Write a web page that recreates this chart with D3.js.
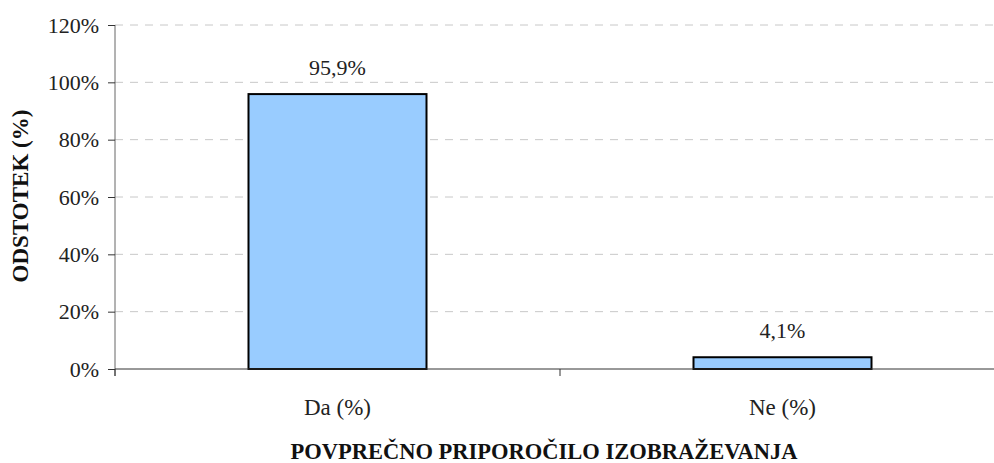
<!DOCTYPE html>
<html>
<head>
<meta charset="utf-8">
<script src="https://cdn.jsdelivr.net/npm/d3@7"></script>
<style>
  body { margin: 0; background: #fff; }
  svg { display: block; font-family: "Liberation Serif", "DejaVu Serif", serif; }
  svg text { font-family: "Liberation Serif", "DejaVu Serif", serif; }
</style>
</head>
<body>
<div id="chart"></div>
<script>
// data
var categories = ["Da (%)", "Ne (%)"];
var values = [95.9, 4.1];
var valueLabels = ["95,9%", "4,1%"];
var yTicks = [0, 20, 40, 60, 80, 100, 120];
var xTitle = "POVPREČNO PRIPOROČILO IZOBRAŽEVANJA";
var yTitle = "ODSTOTEK (%)";

var width = 994, height = 463;
var margin = { top: 25, right: -11, bottom: 94, left: 115 };

var svg = d3.select("#chart")
    .append("svg")
    .attr("width", width)
    .attr("height", height);

var innerW = width - margin.left - margin.right;
var innerH = height - margin.top - margin.bottom;

var graph = svg.append("g")
    .attr("transform", "translate(" + margin.left + "," + margin.top + ")");

var x = d3.scaleBand().domain(categories).range([0, innerW]).paddingInner(0.6).paddingOuter(0.3);
var xOuter = d3.scaleBand().domain(categories).range([0, innerW]);
var y = d3.scaleLinear().domain([0, 120]).range([innerH, 0]);

// gridlines
graph.selectAll(".grid")
    .data(yTicks.filter(function(d) { return d > 0; }))
    .enter().append("line")
    .attr("x1", 0)
    .attr("x2", innerW)
    .attr("y1", function(d) { return y(d); })
    .attr("y2", function(d) { return y(d); })
    .attr("stroke", "#c8c8c8")
    .attr("stroke-width", 1)
    .attr("stroke-dasharray", "8,7");

// y axis
var yAxis = graph.append("g")
    .call(d3.axisLeft(y).tickValues(yTicks).tickFormat(function(d) { return d + "%"; }).tickSize(7).tickPadding(9));
yAxis.attr("font-family", null);
yAxis.select(".domain").attr("stroke", "#666").attr("d", "M0," + (innerH + 7) + "V0");
yAxis.selectAll(".tick line").attr("stroke", "#333");
yAxis.selectAll("text").attr("font-size", 22).attr("fill", "#222");

// bars
graph.selectAll(".bar")
    .data(values)
    .enter().append("rect")
    .attr("x", function(d, i) { return x(categories[i]); })
    .attr("y", function(d) { return y(d); })
    .attr("width", x.bandwidth())
    .attr("height", function(d) { return innerH - y(d); })
    .attr("fill", "#99ccff")
    .attr("stroke", "#000")
    .attr("stroke-width", 2);

// x axis
var xAxis = graph.append("g")
    .attr("transform", "translate(0," + innerH + ")");
xAxis.append("line")
    .attr("x1", 0).attr("x2", innerW)
    .attr("stroke", "#333").attr("stroke-width", 1);
xAxis.selectAll(".xtick")
    .data(categories.concat(["end"]))
    .enter().append("line")
    .attr("x1", function(d, i) { return i * xOuter.bandwidth(); })
    .attr("x2", function(d, i) { return i * xOuter.bandwidth(); })
    .attr("y1", 0).attr("y2", 7)
    .attr("stroke", "#333");
xAxis.selectAll(".xlabel")
    .data(categories)
    .enter().append("text")
    .attr("x", function(d) { return x(d) + x.bandwidth() / 2; })
    .attr("y", 46)
    .attr("text-anchor", "middle")
    .attr("font-size", 23)
    .attr("fill", "#222")
    .text(function(d) { return d; });

// value labels
graph.selectAll(".vlabel")
    .data(values)
    .enter().append("text")
    .attr("x", function(d, i) { return x(categories[i]) + x.bandwidth() / 2; })
    .attr("y", function(d) { return y(d) - 19; })
    .attr("text-anchor", "middle")
    .attr("font-size", 22)
    .attr("fill", "#222")
    .text(function(d, i) { return valueLabels[i]; });

// titles
svg.append("text")
    .attr("x", 544)
    .attr("y", 459)
    .attr("text-anchor", "middle")
    .attr("font-size", 22.5)
    .attr("font-weight", "bold")
    .attr("fill", "#111")
    .text(xTitle);

svg.append("text")
    .attr("transform", "translate(28,196) rotate(-90)")
    .attr("text-anchor", "middle")
    .attr("font-size", 23)
    .attr("font-weight", "bold")
    .attr("fill", "#111")
    .text(yTitle);
</script>
</body>
</html>
